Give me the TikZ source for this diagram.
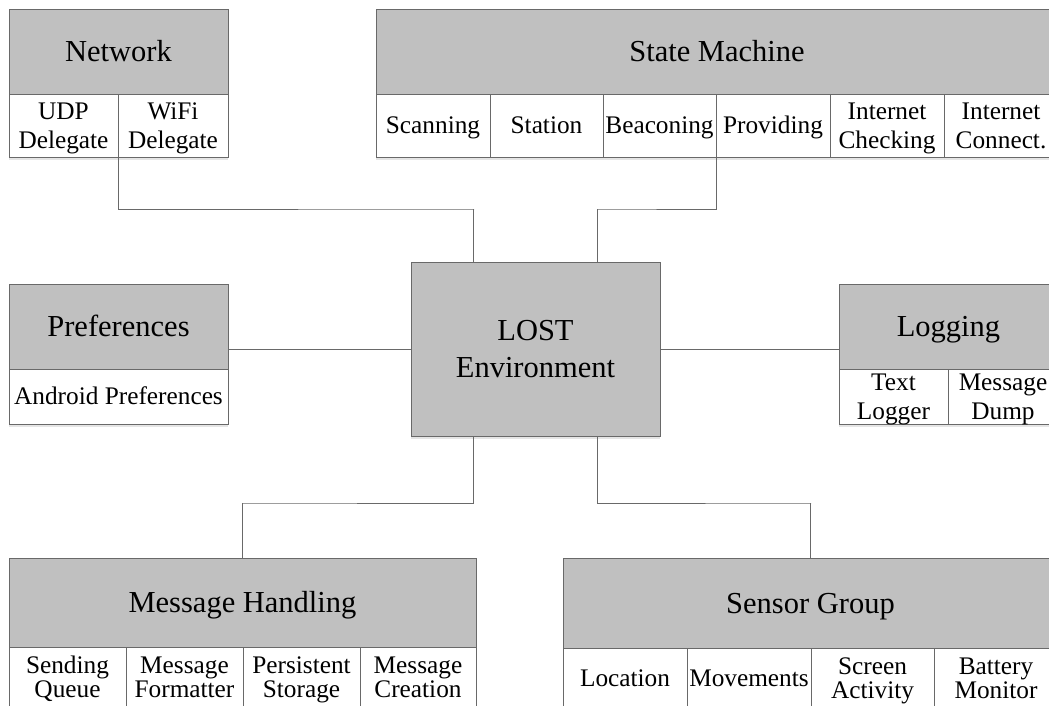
\documentclass[tikz,border=0pt]{standalone}
\usepackage{fontspec}
\setmainfont{Liberation Serif}
\usetikzlibrary{shadows,calc}
\definecolor{boxgray}{RGB}{192,192,192}
\definecolor{linegray}{RGB}{105,105,105}
\tikzset{
  base/.style={draw=linegray, line width=0.9pt, inner sep=0pt, outer sep=0pt, anchor=north west, align=center,
    drop shadow={shadow xshift=0pt, shadow yshift=-3pt, opacity=0.25, fill=black!40}},
  titlebox/.style={base, fill=boxgray, font=\fontsize{30.5}{37}\selectfont, text height=20.2pt, text depth=0pt},
  lostbox/.style={base, fill=boxgray, font=\fontsize{30.5}{37}\selectfont, text height=57.2pt, text depth=0pt},
  cellbox/.style={base, fill=white, font=\fontsize{25.3}{28.5}\selectfont, text height=16.7pt, text depth=0pt},
  cellbox2/.style={cellbox, text height=45.2pt},
  cellbox2b/.style={cellbox, font=\fontsize{25.3}{24.5}\selectfont, text height=41.2pt},
  conn/.style={draw=linegray, line width=0.9pt}
}
\begin{document}
\begin{tikzpicture}[x=1pt, y=-1pt]
\useasboundingbox (0,0) rectangle (1049,706);
\clip (0,0) rectangle (1049,706);
% Network
\node[titlebox, minimum width=219pt, minimum height=85pt] (net) at (9,9) {Network};
\node[cellbox2, minimum width=109pt, minimum height=63pt] (udp) at (9,94) {UDP\\Delegate};
\node[cellbox2, minimum width=110pt, minimum height=63pt] (wifi) at (118,94) {WiFi\\Delegate};
% State Machine
\node[titlebox, minimum width=682pt, minimum height=85pt] (sm) at (376,9) {State Machine};
\node[cellbox, minimum width=114pt, minimum height=63pt] (scan) at (376,94) {Scanning};
\node[cellbox, minimum width=113pt, minimum height=63pt] (stat) at (490,94) {Station};
\node[cellbox, minimum width=113pt, minimum height=63pt] (beac) at (603,94) {Beaconing};
\node[cellbox, minimum width=114pt, minimum height=63pt] (prov) at (716,94) {Providing};
\node[cellbox2, minimum width=114pt, minimum height=63pt] (ichk) at (830,94) {Internet\\Checking};
\node[cellbox2, minimum width=114pt, minimum height=63pt] (icon) at (944,94) {Internet\\Connect.};
% Preferences
\node[titlebox, minimum width=219pt, minimum height=85pt] (pref) at (9,284) {Preferences};
\node[cellbox, minimum width=219pt, minimum height=55pt] (andp) at (9,369) {Android Preferences};
% LOST
\node[lostbox, minimum width=249pt, minimum height=174pt] (lost) at (411,262) {LOST\\Environment};
% Logging
\node[titlebox, minimum width=219pt, minimum height=85pt] (log) at (839,284) {Logging};
\node[cellbox2, minimum width=109pt, minimum height=55pt] (txt) at (839,369) {Text\\Logger};
\node[cellbox2, minimum width=110pt, minimum height=55pt] (dump) at (948,369) {Message\\Dump};
% Message Handling
\node[titlebox, minimum width=467pt, minimum height=89pt] (mh) at (9,558) {Message Handling};
\node[cellbox2b, minimum width=117pt, minimum height=60pt] (sq) at (9,647) {Sending\\Queue};
\node[cellbox2b, minimum width=117pt, minimum height=60pt] (mf) at (126,647) {Message\\Formatter};
\node[cellbox2b, minimum width=117pt, minimum height=60pt] (ps) at (243,647) {Persistent\\Storage};
\node[cellbox2b, minimum width=116pt, minimum height=60pt] (mc) at (360,647) {Message\\Creation};
% Sensor Group
\node[titlebox, minimum width=495pt, minimum height=90pt] (sg) at (563,558) {Sensor Group};
\node[cellbox, minimum width=124pt, minimum height=60pt] (loc) at (563,648) {Location};
\node[cellbox, minimum width=124pt, minimum height=60pt] (mov) at (687,648) {Movements};
\node[cellbox2b, minimum width=123pt, minimum height=60pt] (scr) at (811,648) {Screen\\Activity};
\node[cellbox2b, minimum width=124pt, minimum height=60pt] (bat) at (934,648) {Battery\\Monitor};
% connector points
\coordinate (lnA) at ($(lost.north west)!0.25!(lost.north east)$);
\coordinate (lnB) at ($(lost.north west)!0.75!(lost.north east)$);
\coordinate (lsA) at ($(lost.south west)!0.25!(lost.south east)$);
\coordinate (lsB) at ($(lost.south west)!0.75!(lost.south east)$);
\coordinate (bendN) at (474,209);
\coordinate (bendS) at (598,209);
\coordinate (bendM) at (243,503);
\coordinate (bendG) at (811,503);
% connectors
\draw[conn] (udp.south east) |- (bendN) -| (lnA);
\draw[conn] (prov.south west) |- (bendS) -| (lnB);
\draw[conn] (lost.west) -- (lost.west -| andp.north east);
\draw[conn] (lost.east) -- (lost.east -| txt.north west);
\draw[conn] (lsA) |- (bendM) -| (mh.north);
\draw[conn] (lsB) |- (bendG) -| (sg.north);
\end{tikzpicture}
\end{document}
